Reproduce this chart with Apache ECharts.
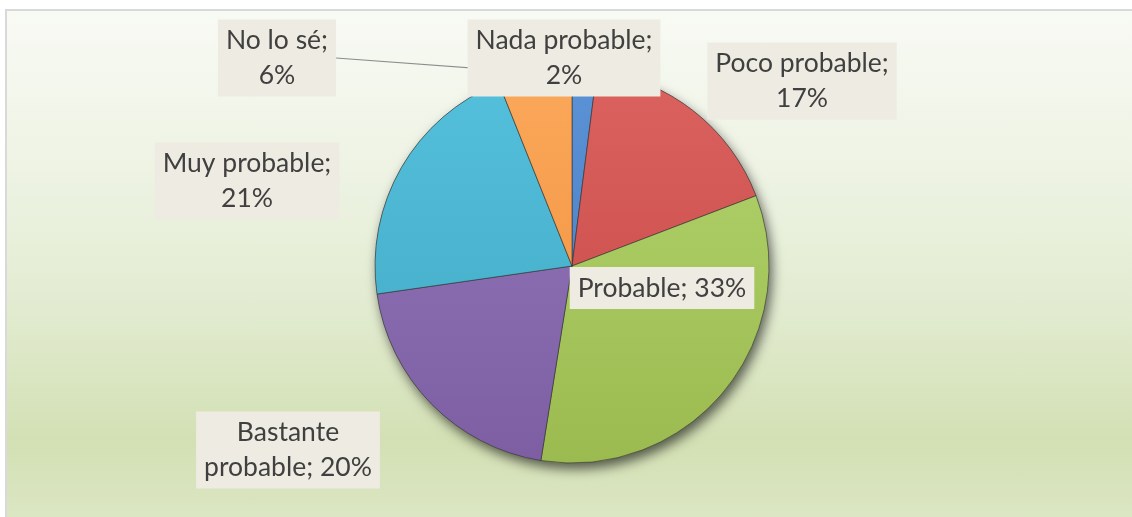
<!DOCTYPE html>
<html>
<head>
<meta charset="utf-8">
<script src="https://cdn.jsdelivr.net/npm/echarts@6/dist/echarts.min.js"></script>
<style>
  html, body { margin: 0; padding: 0; background: #ffffff; width: 1132px; height: 517px; overflow: hidden; }
  #bg {
    position: absolute; left: 5px; top: 9px; width: 1140px; height: 520px;
    border-left: 2px solid #d9d9d9; border-top: 2px solid #d9d9d9;
    background: linear-gradient(to bottom, #f8faf4 0%, #eef3e4 30%, #e3ecd2 55%, #d3e0b4 83%, #dde7c6 100%);
  }
  #chart { position: absolute; left: 0; top: 0; width: 1132px; height: 517px; }
</style>
</head>
<body>
<div id="bg"></div>
<div id="chart"></div>
<script>
// ---- data ----
const categories = ['Nada probable', 'Poco probable', 'Probable', 'Bastante probable', 'Muy probable', 'No lo sé'];
const values = [2, 17, 33, 20, 21, 6];
const colorsLight = ['#5c93d6', '#da625f', '#b3d46e', '#9479bb', '#55c0dc', '#fba85a'];
const colorsDark  = ['#4479bb', '#c74845', '#9bbb50', '#7d5ea3', '#40a9c4', '#f08e3c'];

// ---- layout ----
const CX = 572, CY = 266, R = 197;
const labelCenters = [[564, 58], [802, 81], [662, 288], [288, 450], [247, 181], [277, 58]];

function labelText(i) {
  const name = categories[i], v = values[i] + '%';
  if (i === 2) return name + '; ' + v;
  if (i === 3) return name.replace(' ', '\n') + '; ' + v;
  return name + ';\n' + v;
}

const chart = echarts.init(document.getElementById('chart'), null, { renderer: 'canvas' });

const pieData = categories.map((name, i) => ({
  name: name,
  value: values[i],
  itemStyle: {
    color: {
      type: 'linear', x: CX, y: CY - R, x2: CX, y2: CY + R, global: true,
      colorStops: [{ offset: 0, color: colorsLight[i] }, { offset: 1, color: colorsDark[i] }]
    }
  },
  labelLine: { show: i === 5 }
}));

const option = {
  animation: false,
  backgroundColor: 'transparent',
  series: [
    {
      type: 'pie',
      silent: true,
      center: [CX, CY],
      radius: R,
      z: 1,
      label: { show: false },
      labelLine: { show: false },
      data: [{ value: 1, itemStyle: { color: '#6f6f60', shadowBlur: 12, shadowOffsetX: 3, shadowOffsetY: 6, shadowColor: 'rgba(0,0,0,0.6)' } }]
    },
    {
      type: 'pie',
      center: [CX, CY],
      radius: R,
      startAngle: 90,
      clockwise: true,
      z: 2,
      itemStyle: { borderColor: 'rgba(50,50,50,0.6)', borderWidth: 1 },
      label: {
        show: true,
        position: 'outside',
        formatter: p => labelText(p.dataIndex),
        fontFamily: 'Lato',
        fontSize: 26.5,
        lineHeight: 35,
        color: '#404040',
        align: 'center',
        backgroundColor: '#eeece2',
        padding: [4, 8, 3, 8]
      },
      labelLine: {
        show: false,
        length: 0,
        length2: 0,
        smooth: false,
        lineStyle: { color: '#8c8c8c', width: 1.2 }
      },
      labelLayout: function (params) {
        const c = labelCenters[params.dataIndex];
        return { x: c[0], y: c[1], align: 'center', verticalAlign: 'middle' };
      },
      data: pieData
    }
  ]
};
chart.setOption(option);
</script>
</body>
</html>
